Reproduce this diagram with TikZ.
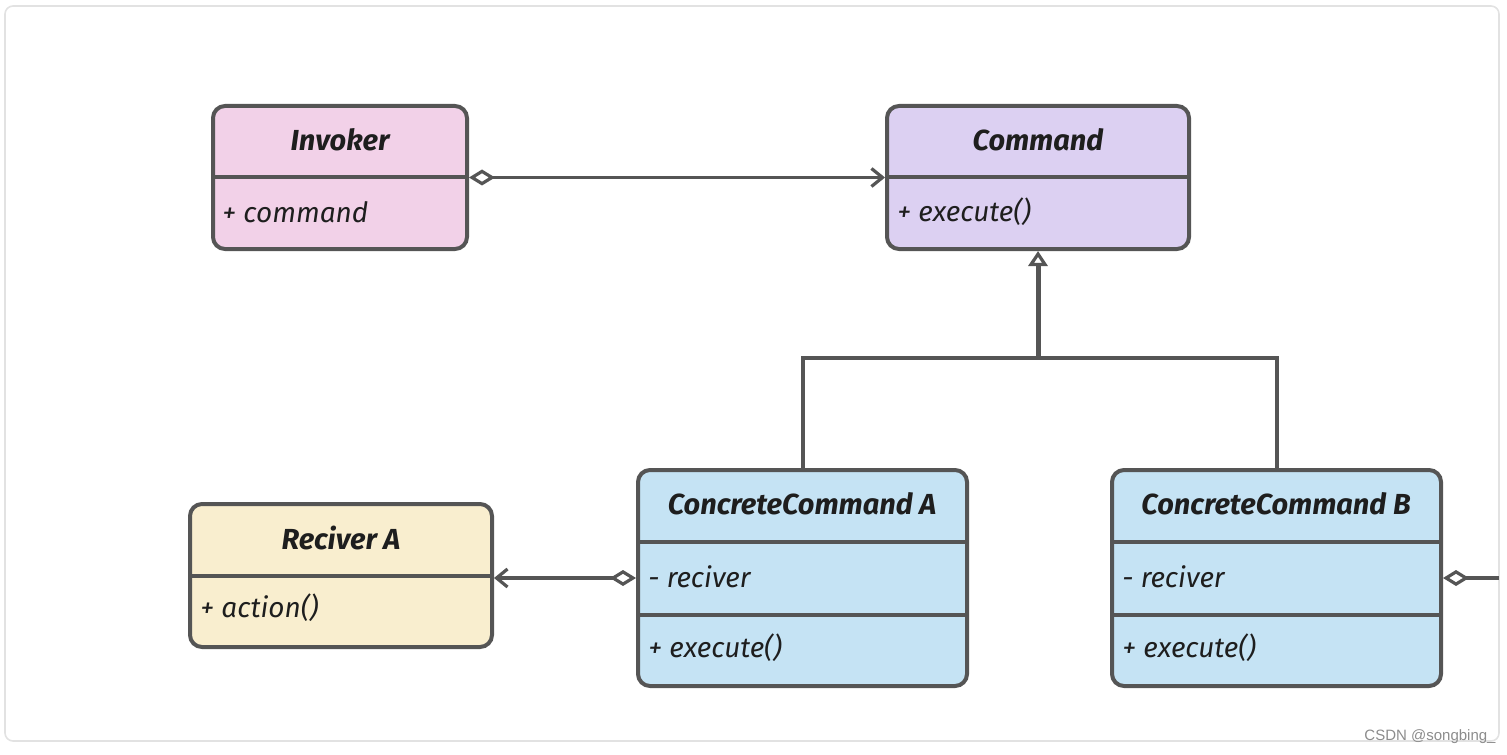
\documentclass[tikz,border=0pt]{standalone}
\usepackage{fontspec}
\setmainfont{Fira Sans}
\newfontfamily\wmfont{Liberation Sans}
\usetikzlibrary{arrows.meta}
\definecolor{linegray}{HTML}{555555}
\definecolor{framegray}{HTML}{E2E2E2}
\definecolor{txtblack}{HTML}{1E1E1E}
\definecolor{invfill}{HTML}{F2D1E8}
\definecolor{cmdfill}{HTML}{DCD0F2}
\definecolor{ccfill}{HTML}{C5E3F4}
\definecolor{recfill}{HTML}{F9EECF}
\begin{document}
\begin{tikzpicture}[x=0.5pt, y=-0.5pt]
    \tikzstyle{clsbox}=[draw=linegray, line width=2pt, rounded corners=6pt, inner sep=0pt]
    \tikzstyle{divider}=[draw=linegray, line width=2pt]
    \tikzstyle{ctitle}=[font=\fontsize{14.5}{16}\selectfont\bfseries\itshape, text=txtblack]
    \tikzstyle{cmember}=[anchor=west, inner sep=0pt, font=\fontsize{14}{16}\selectfont\itshape, text=txtblack]
    \tikzstyle{conn}=[draw=linegray, line width=1.6pt]
    \tikzstyle{aggr}=[conn, {Diamond[open, length=13pt, width=8pt]}-{Straight Barb[length=5.5pt, width=9pt]}]
    \tikzstyle{inh}=[conn, line width=2.5pt, -{Triangle[open, length=7.5pt, width=9.5pt, line width=1.6pt]}]

    \useasboundingbox (0,0) rectangle (1507,754);
    \draw[framegray, line width=0.8pt, rounded corners=4pt] (5,6) rectangle (1499,741);

    % classes
    \node[clsbox, fill=invfill, minimum width=127pt, minimum height=71.5pt] (invoker) at (340,177.5) {};
    \node[clsbox, fill=cmdfill, minimum width=151pt, minimum height=71.5pt] (command) at (1038,177.5) {};
    \node[clsbox, fill=recfill, minimum width=151pt, minimum height=71.5pt] (reciver) at (341,575.5) {};
    \node[clsbox, fill=ccfill, minimum width=164.5pt, minimum height=108pt] (cca) at (802.5,578) {};
    \node[clsbox, fill=ccfill, minimum width=164.5pt, minimum height=108pt] (ccb) at (1276.5,578) {};

    % dividers
    \draw[divider] (invoker.west) -- (invoker.east);
    \draw[divider] (command.west) -- (command.east);
    \draw[divider] (reciver.west) -- (reciver.east);
    \draw[divider] ([yshift=18pt]cca.west) -- ([yshift=18pt]cca.east);
    \draw[divider] ([yshift=-18.5pt]cca.west) -- ([yshift=-18.5pt]cca.east);
    \draw[divider] ([yshift=18pt]ccb.west) -- ([yshift=18pt]ccb.east);
    \draw[divider] ([yshift=-18.5pt]ccb.west) -- ([yshift=-18.5pt]ccb.east);

    % texts
    \node[ctitle] (invokert) at (340,140) {Invoker};
    \node[cmember] (invokerm) at (222,212) {+ command};
    \node[ctitle] (commandt) at (1038,140) {Command};
    \node[cmember] (commandm) at (897,212) {+ execute()};
    \node[ctitle] (recivert) at (341,538) {Reciver A};
    \node[cmember] (reciverm) at (200,608) {+ action()};
    \node[ctitle] (ccat) at (802,504) {ConcreteCommand A};
    \node[cmember] (ccam1) at (648,577) {- reciver};
    \node[cmember] (ccam2) at (648,648) {+ execute()};
    \node[ctitle] (ccbt) at (1276,504) {ConcreteCommand B};
    \node[cmember] (ccbm1) at (1122,577) {- reciver};
    \node[cmember] (ccbm2) at (1122,648) {+ execute()};

    % relations
    \coordinate (joint) at (1038,358);
    \coordinate (bcut) at (1499,578);
    \draw[aggr] (invoker.east) -- (command.west);
    \draw[aggr] (cca.west) -- (reciver.east |- cca.west);
    \draw[conn, {Diamond[open, length=13pt, width=8pt]}-] (ccb.east) -- (bcut);
    \draw[conn, line width=2pt] (cca.north) -- (cca.north |- joint) -- (ccb.north |- joint) -- (ccb.north);
    \draw[inh] (joint) -- (command.south);

    \node[text=black!45, font=\wmfont\fontsize{7.5}{9}\selectfont, inner sep=1pt] (mark) at (1430,737) {CSDN @songbing\_};
\end{tikzpicture}
\end{document}
